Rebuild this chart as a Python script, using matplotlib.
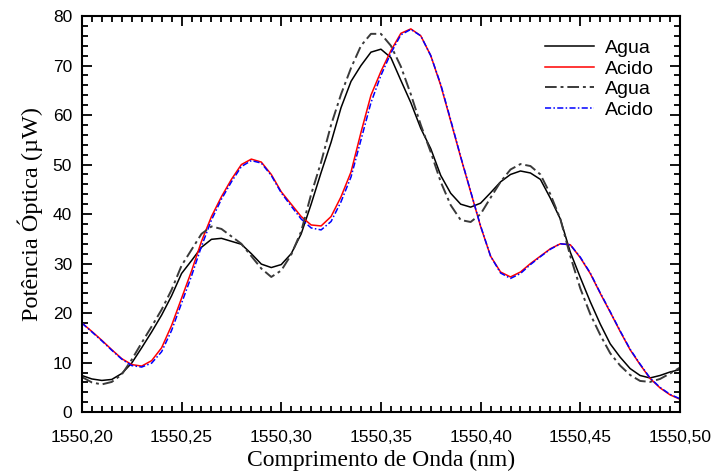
import matplotlib
matplotlib.use('Agg')
import matplotlib.pyplot as plt
from matplotlib.ticker import MultipleLocator, FuncFormatter

# comprimento de onda (nm), passo 0.005
wl = [1550.200 + 0.005 * i for i in range(61)]

agua1 = [7.4, 6.7, 6.4, 6.6, 7.8, 9.9, 13.0, 16.2, 19.6, 23.5,
         28.0, 30.6, 33.3, 34.9, 35.1, 34.5, 33.9, 32.0, 29.9, 29.2,
         29.8, 32.0, 36.0, 42.0, 48.4, 54.5, 61.5, 66.8, 70.0, 72.7,
         73.3, 71.6, 67.0, 62.5, 57.3, 53.2, 47.8, 44.2, 42.0, 41.4,
         42.2, 44.3, 46.5, 48.0, 48.7, 48.3, 47.0, 43.2, 39.0, 32.3,
         27.2, 22.3, 17.8, 13.8, 11.1, 8.8, 7.4, 6.9, 7.4, 8.1, 8.6]

acido1 = [18.0, 16.3, 14.5, 12.6, 10.8, 9.6, 9.3, 10.4, 13.0, 17.5,
          23.0, 28.5, 34.5, 39.5, 43.5, 47.0, 50.0, 51.1, 50.5, 48.0,
          44.5, 42.0, 39.5, 37.8, 37.6, 39.5, 43.5, 48.5, 56.5, 64.0,
          68.8, 73.0, 76.5, 77.4, 76.0, 72.0, 66.0, 58.8, 51.5, 44.5,
          37.5, 31.5, 28.3, 27.3, 28.3, 30.0, 31.5, 33.0, 34.0, 33.8,
          31.2, 28.0, 24.0, 20.2, 16.3, 12.6, 9.6, 6.8, 4.9, 3.5, 2.6]

agua2 = [7.1, 6.0, 5.6, 6.1, 7.6, 10.6, 14.0, 17.3, 20.7, 24.7,
         29.6, 32.8, 36.0, 37.5, 37.0, 35.5, 34.0, 31.5, 29.0, 27.3,
         28.6, 31.8, 36.5, 44.0, 50.5, 58.0, 64.2, 69.5, 74.0, 76.4,
         76.4, 74.0, 69.8, 64.2, 58.0, 52.5, 46.5, 41.8, 38.8, 38.4,
         40.0, 43.3, 46.5, 49.0, 50.1, 49.7, 48.0, 44.0, 39.0, 31.5,
         25.0, 19.8, 15.6, 11.9, 9.4, 7.5, 6.3, 6.1, 6.7, 7.8, 9.0]

acido2 = [18.0, 16.2, 14.4, 12.5, 10.7, 9.4, 9.1, 9.9, 12.2, 16.5,
          22.0, 27.5, 33.5, 38.8, 43.0, 46.5, 49.6, 50.8, 50.3, 47.8,
          44.3, 41.6, 39.0, 37.2, 36.8, 38.5, 42.5, 47.5, 55.0, 62.5,
          68.0, 72.5, 76.2, 77.3, 76.0, 72.0, 66.2, 59.0, 51.6, 44.6,
          37.6, 31.5, 28.1, 27.0, 28.0, 29.8, 31.4, 32.9, 34.0, 33.8,
          31.3, 28.1, 24.1, 20.3, 16.4, 12.7, 9.7, 6.9, 5.0, 3.6, 2.7]

fig = plt.figure(figsize=(7.12, 4.71), dpi=100)
ax = fig.add_axes([0.115, 0.125, 0.84, 0.841])

ax.plot(wl, agua1, color='black', lw=1.1, label='Agua')
ax.plot(wl, acido1, color='red', lw=1.1, label='Acido')
ax.plot(wl, agua2, color='#3a3a3a', lw=1.4, ls=(0, (6, 2, 1.5, 2)), label='Agua')
ax.plot(wl, acido2, color='blue', lw=1.1, ls=(0, (4, 1.5, 1, 1.5)), label='Acido')

ax.set_xlim(1550.20, 1550.50)
ax.set_ylim(0, 80)
ax.xaxis.set_major_locator(MultipleLocator(0.05))
ax.xaxis.set_minor_locator(MultipleLocator(0.005))
ax.yaxis.set_major_locator(MultipleLocator(10))
ax.yaxis.set_minor_locator(MultipleLocator(2))
ax.xaxis.set_major_formatter(FuncFormatter(lambda v, p: ('%.2f' % v).replace('.', ',')))

ax.tick_params(which='both', direction='in', top=True, right=True,
               labelsize=12.5, width=1.3)
ax.tick_params(which='major', length=7)
ax.tick_params(which='minor', length=4)
ax.tick_params(axis='x', pad=13)
ax.tick_params(axis='y', pad=7)
for lab in ax.get_xticklabels() + ax.get_yticklabels():
    lab.set_family('Liberation Sans')
for s in ax.spines.values():
    s.set_linewidth(1.5)

ax.set_xlabel('Comprimento de Onda (nm)', family='Liberation Serif', fontsize=17, labelpad=3)
ax.set_ylabel('Potência Óptica (µW)', family='Liberation Serif', fontsize=17.5, labelpad=7)

ax.legend(loc='upper right', frameon=False, prop={'family': 'Liberation Sans', 'size': 14},
          handlelength=2.5, labelspacing=0.15, handletextpad=0.55,
          bbox_to_anchor=(0.985, 0.985))

fig.savefig('out.png', dpi=100)
